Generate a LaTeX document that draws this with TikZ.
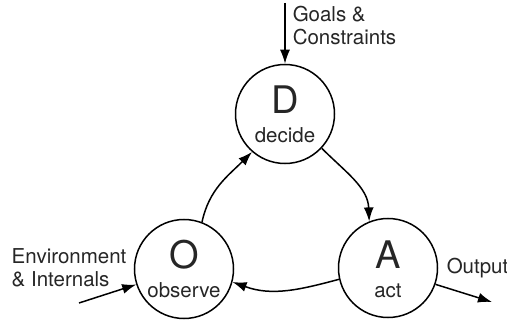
\documentclass[tikz,border=0pt]{standalone}
\usepackage{fontspec}
\setmainfont{TeX Gyre Heros}
\usetikzlibrary{arrows.meta}

\begin{document}
\begin{tikzpicture}[x=1pt, y=1pt, line width=1.5pt,
        every node/.style={font=\fontsize{20.5}{23}\selectfont, text=black!85},
        stage/.style={draw=black, circle, minimum size=99pt, inner sep=0},
        letter/.style={anchor=base, font=\fontsize{38}{38}\selectfont},
        word/.style={anchor=base},
        outside/.style={align=left, inner sep=0},
        flow/.style={-{Latex[length=14pt, width=10pt]}}]
    \useasboundingbox (0,0) rectangle (507,322);
    % the three stages
    \node[stage] (d) at (285,208) {};
    \node[letter] (d-l) at (d.center) {D};
    \node[word] (d-w) at ([yshift=-29pt]d.center) {decide};
    \node[stage] (o) at (184,53) {};
    \node[letter] (o-l) at (o.center) {O};
    \node[word] (o-w) at ([yshift=-29pt]o.center) {observe};
    \node[stage] (a) at (388,54) {};
    \node[letter] (a-l) at (a.center) {A};
    \node[word] (a-w) at ([yshift=-29pt]a.center) {act};
    % inputs and output
    \coordinate (goals) at (285,319);
    \node[outside, anchor=west] (goals-l) at (292,296.5) {Goals \&\\Constraints};
    \coordinate (env) at (79,19);
    \node[outside, anchor=west] (env-l) at (11,54.5) {Environment\\\& Internals};
    \coordinate (out) at (492,20);
    \node[outside, anchor=west] (out-l) at (446,53.5) {Output};
    % the loop
    \draw[flow] (goals) -- (d);
    \draw[flow] (o.69) to[out=78, in=225] (d.229);
    \draw[flow] (d.-43) to[out=-45, in=92] (a.112);
    \draw[flow] (a.193) to[out=195, in=-20] (o.-15);
    \draw[flow] (env) -- (o.198);
    \draw[flow] (a.-19) -- (out);
\end{tikzpicture}
\end{document}
